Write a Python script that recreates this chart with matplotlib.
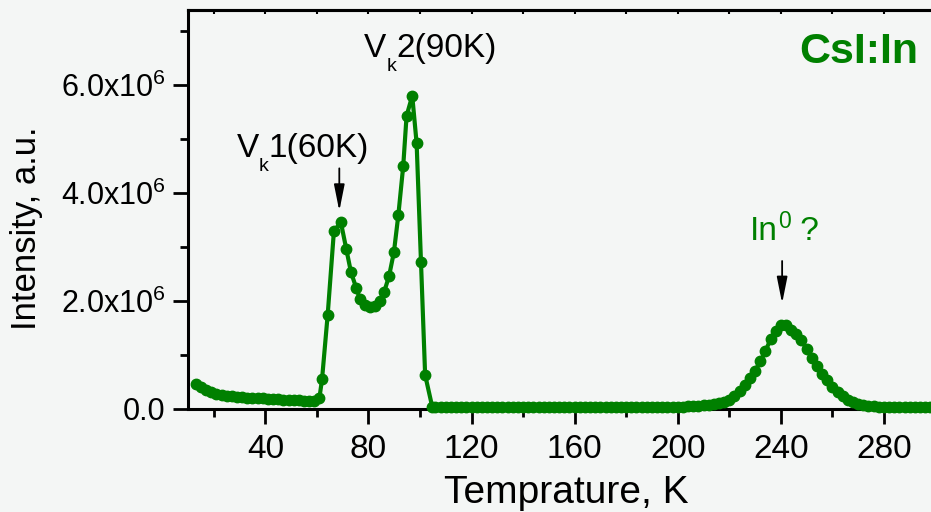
import numpy as np
import matplotlib
matplotlib.use('Agg')
import matplotlib.pyplot as plt
from matplotlib.ticker import FixedLocator

plt.rcParams['font.family'] = ['Liberation Sans', 'DejaVu Sans']
plt.rcParams['mathtext.fontset'] = 'custom'
plt.rcParams['mathtext.rm'] = 'Liberation Sans'
plt.rcParams['mathtext.it'] = 'Liberation Sans:italic'

GREEN = '#008000'
BG = '#f4f6f5'

# glow curve, intensity in units of 1e6
temp_low = [13, 15, 17, 19, 21, 23, 25, 27, 29, 31, 33, 35,
            37, 39, 41, 43, 45, 47, 49, 51, 53, 55, 57, 59]
int_low = [0.46, 0.40, 0.35, 0.31, 0.28, 0.26, 0.245, 0.235, 0.225, 0.215, 0.21, 0.205,
           0.20, 0.195, 0.19, 0.185, 0.18, 0.175, 0.17, 0.165, 0.16, 0.155, 0.15, 0.155]

temp_vk = [61, 62, 64.2, 66.6, 69.3, 71.4, 73.2, 75.2, 76.7, 78.7, 80.6, 82.5,
           84.5, 86.1, 88.0, 89.9, 91.6, 93.5, 94.8, 97.0, 98.7, 100.4, 102.0, 104.8]
int_vk = [0.21, 0.55, 1.75, 3.29, 3.46, 2.96, 2.54, 2.25, 2.04, 1.92, 1.88, 1.91,
          2.00, 2.17, 2.46, 2.91, 3.59, 4.50, 5.43, 5.80, 4.92, 2.72, 0.63, 0.03]

temp_high = [106, 108, 110, 112, 114, 116, 118, 120, 122, 124, 126, 128,
             130, 132, 134, 136, 138, 140, 142, 144, 146, 148, 150, 152,
             154, 156, 158, 160, 162, 164, 166, 168, 170, 172, 174, 176,
             178, 180, 182, 184, 186, 188, 190, 192, 194, 196, 198, 200,
             202, 204, 206, 208, 210, 212, 214, 216, 218, 220, 222, 224,
             226, 228, 230, 232, 234, 236, 238, 240, 242, 244, 246, 248,
             250, 252, 254, 256, 258, 260, 262, 264, 266, 268, 270, 272,
             274, 276, 278, 280, 282, 284, 286, 288, 290, 292, 294, 296,
             298]
int_high = [0.03, 0.03, 0.03, 0.03, 0.03, 0.03, 0.03, 0.03, 0.03, 0.03, 0.03, 0.03,
            0.03, 0.03, 0.03, 0.03, 0.03, 0.03, 0.03, 0.03, 0.03, 0.03, 0.03, 0.03,
            0.03, 0.03, 0.03, 0.03, 0.03, 0.03, 0.03, 0.03, 0.03, 0.03, 0.03, 0.03,
            0.03, 0.03, 0.03, 0.03, 0.03, 0.03, 0.032, 0.034, 0.036, 0.038, 0.040, 0.043,
            0.046, 0.050, 0.055, 0.060, 0.067, 0.075, 0.085, 0.105, 0.13, 0.175, 0.24, 0.33,
            0.45, 0.58, 0.71, 0.88, 1.07, 1.29, 1.45, 1.55, 1.56, 1.47, 1.38, 1.27,
            1.11, 0.95, 0.79, 0.65, 0.53, 0.41, 0.32, 0.24, 0.17, 0.125, 0.095, 0.075,
            0.062, 0.052, 0.045, 0.04, 0.035, 0.035, 0.035, 0.035, 0.035, 0.035, 0.035, 0.035,
            0.035]

temperature = np.array(temp_low + temp_vk + temp_high)
intensity = np.array(int_low + int_vk + int_high) * 1e6

ytick_vals = [0, 2e6, 4e6, 6e6]
ytick_labels = ['0.0', r'2.0x10$^\mathregular{6}$', r'4.0x10$^\mathregular{6}$', r'6.0x10$^\mathregular{6}$']
xtick_vals = [40, 80, 120, 160, 200, 240, 280]

W, H = 931, 512
fig = plt.figure(figsize=(W / 100, H / 100), dpi=100, facecolor=BG)
ax = fig.add_axes([188 / W, 1 - 409 / H, (944 - 188) / W, (409 - 10) / H])
ax.set_facecolor(BG)

ax.plot(temperature, intensity, '-o', color=GREEN, lw=3.0, ms=7.5,
        clip_on=False, zorder=3)

ax.set_xlim(10, 303.3)
ax.set_ylim(0, 7.39e6)

for side in ['left', 'bottom', 'top']:
    ax.spines[side].set_linewidth(2.2)
ax.spines['right'].set_visible(False)

ax.set_xticks(xtick_vals)
ax.xaxis.set_minor_locator(FixedLocator([20, 60, 100, 140, 180, 220, 260, 300]))
ax.set_yticks(ytick_vals)
ax.set_yticklabels(ytick_labels)
ax.yaxis.set_minor_locator(FixedLocator([1e6, 3e6, 5e6, 7e6]))
ax.tick_params(axis='both', which='major', direction='out', length=11, width=2.0)
ax.tick_params(axis='both', which='minor', direction='out', length=6, width=2.0)
ax.tick_params(axis='x', which='major', labelsize=24, pad=7)
ax.tick_params(axis='y', which='major', labelsize=22, pad=5)
ax.tick_params(top=False, right=False, which='both')

# small inward ticks along the top edge
top = ax.secondary_xaxis('top')
top.set_xticks(list(range(20, 301, 20)))
top.tick_params(direction='in', length=3, width=1.5, labeltop=False)
top.spines['top'].set_linewidth(2.2)

fig.text(566 / W, 1 - 503 / H, 'Temprature, K', fontsize=28, ha='center', va='baseline')
fig.text(27 / W, 1 - 228.5 / H, 'Intensity, a.u.', fontsize=25, rotation=90,
         ha='center', va='center')

renderer = fig.canvas.get_renderer()


def pieced_label(x, y, pieces, color):
    # draw text pieces left to right, each with its own size and baseline shift
    dx = 0
    for s, size, dy in pieces:
        t = ax.annotate(s, (x, y), xytext=(dx, dy), textcoords='offset pixels',
                        fontsize=size, color=color, ha='left', va='baseline')
        dx += t.get_window_extent(renderer).width


pieced_label(28.9, 4.672e6, [('V', 24, 0), ('k', 14, -14), ('1(60K)', 24, 0)], 'black')
pieced_label(78.4, 6.524e6, [('V', 24, 0), ('k', 14, -14), ('2(90K)', 24, 0)], 'black')
pieced_label(228.0, 3.13e6, [('In', 24, 0), ('0', 16.5, 12), (' ?', 24, 0)], GREEN)

arrow = dict(arrowstyle='-|>,head_length=0.8,head_width=0.16', color='black',
             lw=1.3, mutation_scale=20, shrinkA=0, shrinkB=0)
ax.annotate('', xy=(68.7, 3.667e6), xytext=(68.7, 4.457e6), arrowprops=arrow)
ax.annotate('', xy=(240.5, 1.957e6), xytext=(240.5, 2.741e6), arrowprops=arrow)

ax.text(247, 6.40e6, 'CsI:In', fontsize=31, fontweight='bold', color=GREEN,
        ha='left', va='baseline')

fig.savefig('out.png', dpi=100, facecolor=BG)
